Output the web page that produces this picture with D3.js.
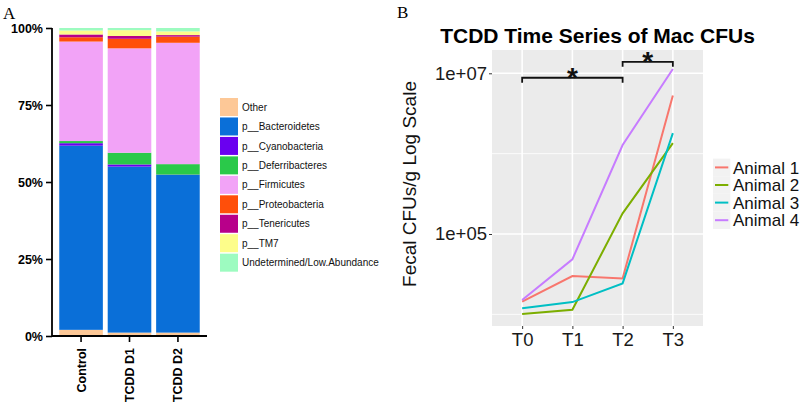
<!DOCTYPE html>
<html>
<head>
<meta charset="utf-8">
<script src="https://cdn.jsdelivr.net/npm/d3@7"></script>
<style>
  body { margin: 0; background: #fff; }
  svg { display: block; font-family: "Liberation Sans", Arial, sans-serif; }
</style>
</head>
<body>
<svg width="800" height="406"></svg>
<script>
/* ---- panel A data: relative abundance (%) per group ---- */
var groups = ["Control", "TCDD D1", "TCDD D2"];
var phyla = ["Other", "p__Bacteroidetes", "p__Cyanobacteria", "p__Deferribacteres",
             "p__Firmicutes", "p__Proteobacteria", "p__Tenericutes", "p__TM7",
             "Undetermined/Low.Abundance"];
var phylaColors = ["#fdc897", "#0a6fd8", "#6a00f0", "#2ac94a", "#f2a3f7",
                   "#ff4f0a", "#b8008a", "#fdfd8a", "#9dfbc0"];
var abundControl = [2.0, 59.8, 0.8, 0.7, 32.3, 1.4, 0.9, 1.3, 0.8];
var abundD1      = [1.1, 53.9, 0.7, 3.8, 33.9, 3.1, 0.9, 1.9, 0.7];
var abundD2      = [1.1, 51.2, 0.1, 3.4, 39.4, 2.0, 0.5, 1.2, 1.1];
var pctTicks = [0, 25, 50, 75, 100];

/* ---- panel B data: fecal CFUs/g per animal ---- */
var timePoints = ["T0", "T1", "T2", "T3"];
var animals = ["Animal 1", "Animal 2", "Animal 3", "Animal 4"];
var animalColors = ["#F8766D", "#7CAE00", "#00BFC4", "#C77CFF"];
var animal1 = [14400, 30000, 28000, 5300000];
var animal2 = [10100, 11400, 181000, 1350000];
var animal3 = [11900, 14200, 24300, 1800000];
var animal4 = [15100, 48400, 1280000, 11300000];
var majorTicks = [1e5, 1e7];
var minorTicks = [1e4, 1e6];
var brackets = [{from: "T0", to: "T2", y: 8.8e6}, {from: "T2", to: "T3", y: 1.39e7}];

var svg = d3.select("svg");

/* ================= Panel A ================= */
var abund = [abundControl, abundD1, abundD2];
var rows = groups.map(function(g, i) {
  var r = {group: g};
  phyla.forEach(function(p, j) { r[p] = abund[i][j]; });
  return r;
});

var xA = d3.scaleBand().domain(groups).range([52, 207]).paddingInner(0.1).paddingOuter(0.15);
var yA = d3.scaleLinear().domain([0, 100]).range([336, 28]);
var colorA = d3.scaleOrdinal().domain(phyla).range(phylaColors);

var stack = d3.stack().keys(phyla)(rows);

var gA = svg.append("g");
gA.selectAll(".layer")
  .data(stack)
  .enter().append("g")
    .attr("fill", function(d) { return colorA(d.key); })
  .selectAll("rect")
  .data(function(d) { return d; })
  .enter().append("rect")
    .attr("x", function(d) { return xA(d.data.group); })
    .attr("y", function(d) { return yA(d[1]); })
    .attr("width", xA.bandwidth())
    .attr("height", function(d) { return yA(d[0]) - yA(d[1]); });

var axA_y = gA.append("g")
  .attr("transform", "translate(52,0)")
  .call(d3.axisLeft(yA).tickValues(pctTicks).tickSize(6).tickPadding(3)
    .tickFormat(function(d) { return d + "%"; }));
var axA_x = gA.append("g")
  .attr("transform", "translate(0,336)")
  .call(d3.axisBottom(xA).tickSize(6).tickSizeOuter(0));

[axA_y, axA_x].forEach(function(a) {
  a.select(".domain").attr("stroke", "#000").attr("stroke-width", 1.8);
  a.selectAll(".tick line").attr("stroke", "#000").attr("stroke-width", 1.6);
  a.selectAll("text").attr("fill", "#000").attr("font-size", 12.5)
    .attr("font-weight", "bold").attr("font-family", "Liberation Sans, Arial, sans-serif");
});
axA_y.select(".domain").attr("d", "M0,28V336");
axA_x.select(".domain").attr("d", "M52,0H207");
axA_x.selectAll(".tick text")
  .attr("transform", "rotate(-90)")
  .attr("text-anchor", "end")
  .attr("x", -12).attr("y", 0).attr("dy", "0.36em");

/* legend A */
var legA = svg.append("g").attr("transform", "translate(220,98)");
var legItemA = legA.selectAll("g").data(phyla).enter().append("g")
  .attr("transform", function(d, i) { return "translate(0," + (i * 19.46) + ")"; });
legItemA.append("rect").attr("width", 18).attr("height", 18)
  .attr("fill", function(d) { return colorA(d); });
legItemA.append("text").attr("x", 22).attr("y", 9).attr("dy", "0.36em")
  .attr("font-size", 10).attr("fill", "#111").text(function(d) { return d; });

svg.append("text").attr("x", 3).attr("y", 19)
  .attr("font-family", "Liberation Serif, Times New Roman, serif")
  .attr("font-size", 17).text("A");

/* ================= Panel B ================= */
var series = [animal1, animal2, animal3, animal4];
var pLeft = 492, pRight = 703, pTop = 50, pBottom = 326;
var step = (pRight - pLeft) / (timePoints.length - 1 + 1.2);
var xB = d3.scalePoint().domain(timePoints).range([pLeft + 0.6 * step, pRight - 0.6 * step]);
var yB = d3.scaleLog().domain([Math.pow(10, 3.855), Math.pow(10, 7.29)]).range([pBottom, pTop]);
var colorB = d3.scaleOrdinal().domain(animals).range(animalColors);

var gB = svg.append("g");
gB.append("rect").attr("x", pLeft).attr("y", pTop)
  .attr("width", pRight - pLeft).attr("height", pBottom - pTop).attr("fill", "#EBEBEB");

gB.selectAll(".minor").data(minorTicks).enter().append("line")
  .attr("x1", pLeft).attr("x2", pRight)
  .attr("y1", function(d) { return yB(d); }).attr("y2", function(d) { return yB(d); })
  .attr("stroke", "#fff").attr("stroke-width", 0.8);
gB.selectAll(".major").data(majorTicks).enter().append("line")
  .attr("x1", pLeft).attr("x2", pRight)
  .attr("y1", function(d) { return yB(d); }).attr("y2", function(d) { return yB(d); })
  .attr("stroke", "#fff").attr("stroke-width", 1.6);
gB.selectAll(".vgrid").data(timePoints).enter().append("line")
  .attr("x1", function(d) { return xB(d); }).attr("x2", function(d) { return xB(d); })
  .attr("y1", pTop).attr("y2", pBottom)
  .attr("stroke", "#fff").attr("stroke-width", 1.6);

var line = d3.line()
  .x(function(d, i) { return xB(timePoints[i]); })
  .y(function(d) { return yB(d); });

gB.selectAll(".series").data(series).enter().append("path")
  .attr("d", line)
  .attr("fill", "none")
  .attr("stroke", function(d, i) { return animalColors[i]; })
  .attr("stroke-width", 2);

/* significance brackets */
brackets.forEach(function(b) {
  var x1 = xB(b.from), x2 = xB(b.to), y = yB(b.y);
  gB.append("path")
    .attr("d", "M" + x1 + "," + (y + 5) + "V" + y + "H" + x2 + "V" + (y + 5))
    .attr("fill", "none").attr("stroke", "#111").attr("stroke-width", 1.8);
  gB.append("text").attr("x", (x1 + x2) / 2).attr("y", y + 9)
    .attr("text-anchor", "middle").attr("font-size", 28).attr("font-weight", "bold")
    .attr("fill", "#111").text("*");
});

var axB_y = gB.append("g").attr("transform", "translate(" + pLeft + ",0)")
  .call(d3.axisLeft(yB).tickValues(majorTicks).tickSize(3).tickPadding(2)
    .tickFormat(function(d) { return "1e+0" + Math.round(Math.log10(d)); }));
var axB_x = gB.append("g").attr("transform", "translate(0," + pBottom + ")")
  .call(d3.axisBottom(xB).tickSize(3).tickPadding(4));
[axB_y, axB_x].forEach(function(a) {
  a.select(".domain").remove();
  a.selectAll(".tick line").attr("stroke", "#333").attr("stroke-width", 1);
  a.selectAll("text").attr("fill", "#1a1a1a").attr("font-size", 18.5)
    .attr("font-family", "Liberation Sans, Arial, sans-serif");
});

svg.append("text")
  .attr("transform", "translate(409," + ((pTop + pBottom) / 2 - 4) + ") rotate(-90)")
  .attr("text-anchor", "middle").attr("dy", "0.36em")
  .attr("font-size", 19).attr("fill", "#111").text("Fecal CFUs/g Log Scale");

svg.append("text").attr("x", (pLeft + pRight) / 2).attr("y", 43)
  .attr("text-anchor", "middle").attr("font-size", 21).attr("font-weight", "bold")
  .attr("fill", "#000").text("TCDD Time Series of Mac CFUs");

svg.append("text").attr("x", 397).attr("y", 18)
  .attr("font-family", "Liberation Serif, Times New Roman, serif")
  .attr("font-size", 17).text("B");

/* legend B */
var legB = svg.append("g").attr("transform", "translate(713,158.6)");
var legItemB = legB.selectAll("g").data(animals).enter().append("g")
  .attr("transform", function(d, i) { return "translate(0," + (i * 17.6) + ")"; });
legItemB.append("rect").attr("width", 17.3).attr("height", 17.6).attr("fill", "#F2F2F2");
legItemB.append("line").attr("x1", 2).attr("x2", 15.3).attr("y1", 8.8).attr("y2", 8.8)
  .attr("stroke", function(d) { return colorB(d); }).attr("stroke-width", 2);
legItemB.append("text").attr("x", 20).attr("y", 8.8).attr("dy", "0.36em")
  .attr("font-size", 17).attr("fill", "#111").text(function(d) { return d; });
</script>
</body>
</html>
